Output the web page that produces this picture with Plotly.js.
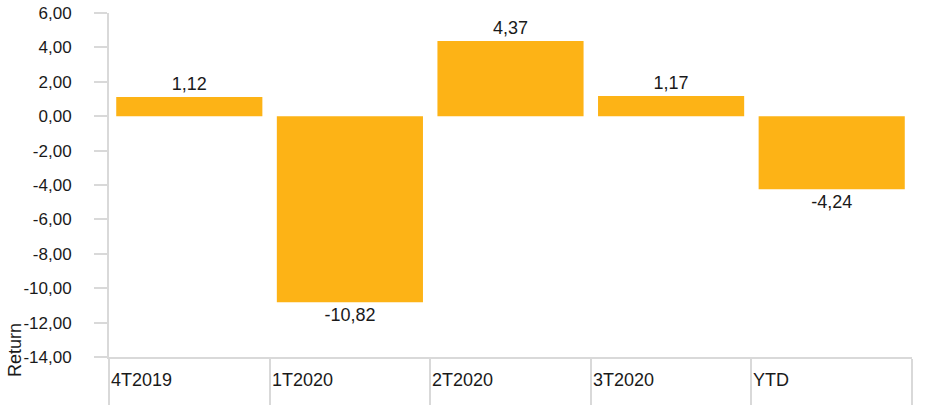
<!DOCTYPE html>
<html>
<head>
<meta charset="utf-8">
<script src="https://cdn.plot.ly/plotly-3.0.1.min.js"></script>
<style>html,body{margin:0;padding:0;background:#fff;}</style>
</head>
<body>
<div id="chart" style="width:930px;height:405px;"></div>
<script>
var categories = ["4T2019", "1T2020", "2T2020", "3T2020", "YTD"];
var returns = [1.12, -10.82, 4.37, 1.17, -4.24];
var yTickValues = [-14, -12, -10, -8, -6, -4, -2, 0, 2, 4, 6];
var yAxisTitle = "Return";

var FONT = "Liberation Sans, Arial, sans-serif";
var GREY = "#d9d9d9";
var TXT = "#1a1a1a";

function fmt(v){ return v.toFixed(2).replace(".", ","); }

var trace = {
  type: "bar",
  x: categories,
  y: returns,
  marker: {color: "#FDB316", line: {width: 0}},
  text: returns.map(fmt),
  textposition: "outside",
  textfont: {family: FONT, size: 18, color: TXT},
  cliponaxis: false,
  hoverinfo: "none"
};

var annotations = categories.map(function(c, i){
  return {
    xref: "x", yref: "paper",
    x: i - 0.5, y: 0,
    xanchor: "left", yanchor: "top",
    yshift: -11,
    text: c, showarrow: false,
    font: {family: FONT, size: 18, color: TXT}
  };
});

annotations.push({
  xref: "paper", yref: "paper",
  x: 0, y: 0,
  xshift: -94, yshift: 7,
  xanchor: "center", yanchor: "middle",
  textangle: -90,
  text: yAxisTitle, showarrow: false,
  font: {family: FONT, size: 18, color: TXT}
});

var layout = {
  width: 930, height: 405,
  margin: {l: 109, r: 18, t: 13, b: 48},
  paper_bgcolor: "#fff", plot_bgcolor: "#fff",
  separators: ", ",
  showlegend: false,
  bargap: 0.09,
  font: {family: FONT, size: 17, color: TXT},
  xaxis: {
    type: "category",
    categoryorder: "array", categoryarray: categories,
    showticklabels: false,
    showgrid: false, zeroline: false,
    showline: true, linecolor: GREY, linewidth: 2,
    ticks: "outside", tickson: "boundaries", ticklen: 48,
    tickcolor: GREY, tickwidth: 2,
    range: [-0.5, 4.5]
  },
  yaxis: {
    range: [-14, 6],
    tickmode: "array",
    tickvals: yTickValues,
    ticktext: yTickValues.map(fmt),
    showgrid: false, zeroline: false,
    showline: true, linecolor: GREY, linewidth: 2,
    ticks: "outside", ticklen: 13, tickcolor: GREY, tickwidth: 2,
    ticklabelstandoff: 19,
    tickfont: {family: FONT, size: 17, color: TXT}
  },
  annotations: annotations
};

Plotly.newPlot("chart", [trace], layout, {displayModeBar: false, staticPlot: true});
</script>
</body>
</html>
